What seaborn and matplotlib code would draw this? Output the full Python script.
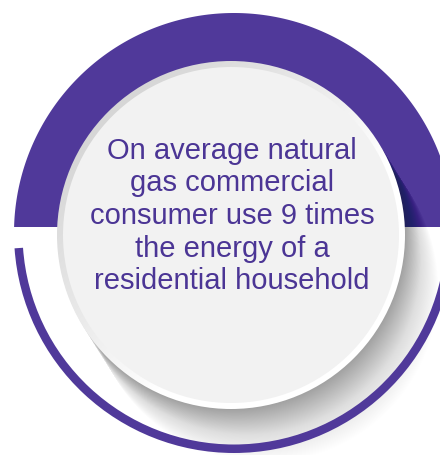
import matplotlib
matplotlib.use("Agg")
import matplotlib.pyplot as plt
import seaborn as sns
import numpy as np
from matplotlib.patches import Circle, Wedge

# content of the badge
message_lines = ["On average natural", "gas commercial", "consumer use 9 times",
                 "the energy of a", "residential household"]
times_more = 9  # commercial vs residential use (in the text)

purple = "#50399a"
text_purple = "#4b3595"

sns.set_style("white")
plt.rcParams['font.family'] = ['Liberation Sans', 'DejaVu Sans']

fig = plt.figure(figsize=(4.4, 4.55), dpi=100)
ax = fig.add_axes([0, 0, 1, 1])
ax.set_xlim(0, 440)
ax.set_ylim(455, 0)
ax.set_aspect('equal')
ax.axis('off')

# outer purple circle: solid top part, thin ring at the bottom
cx, cy, R = 234, 233, 220
cut_y = 227
a0 = np.degrees(np.arcsin((cut_y - cy) / R))
th = np.radians(np.linspace(180 - a0, 360 + a0, 200))
ax.fill(cx + R * np.cos(th), cy + R * np.sin(th), color=purple, lw=0, zorder=1)
ax.add_patch(Wedge((cx, cy), R, 4, 176, width=8.5, color=purple, lw=0, zorder=3))

# inner disc
ix, iy, r = 231, 235, 174

# long soft shadow towards bottom right, fading with distance
ang = np.radians(58)
for d in range(1, 75):
    a = 0.0095 * (1 - d / 80)
    ax.add_patch(Circle((ix + d * np.cos(ang), iy + d * np.sin(ang)), r,
                        color="#202020", alpha=a, lw=0, zorder=2))

# rim: grey on the upper left, white on the lower right
rim = Circle((ix, iy), r, facecolor="none", lw=0, zorder=4)
ax.add_patch(rim)
gx, gy = np.meshgrid(np.linspace(-1, 1, 200), np.linspace(-1, 1, 200))
grad = (gx + gy) / 2
img = ax.imshow(grad, cmap=sns.blend_palette(["#d6d6d6", "#e8e8e8", "#ffffff", "#ffffff"], as_cmap=True),
                extent=(ix - r, ix + r, iy + r, iy - r), zorder=4, vmin=-0.7, vmax=0.7)
img.set_clip_path(rim)
ax.add_patch(Circle((ix, iy), r - 6, color="#f2f2f2", lw=0, zorder=5))

ax.text(232, 216, "\n".join(message_lines), ha='center', va='center',
        fontsize=21, color=text_purple, linespacing=1.21, zorder=6)

fig.savefig("out.png", dpi=100)
